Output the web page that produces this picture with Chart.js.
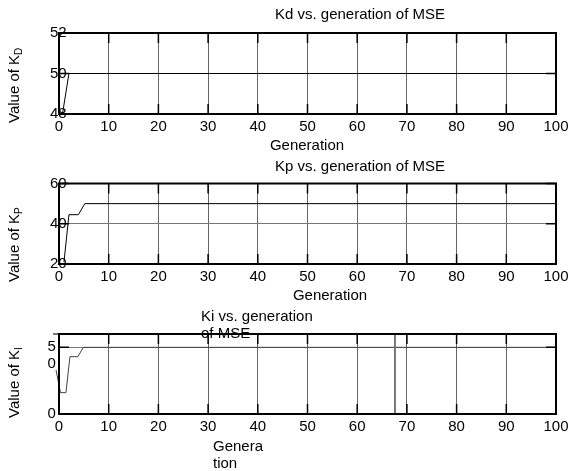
<!DOCTYPE html>
<html>
<head>
<meta charset="utf-8">
<script src="https://cdn.jsdelivr.net/npm/chart.js@4/dist/chart.umd.min.js"></script>
<style>
  body { margin: 0; background: #fff; }
  #wrap { position: relative; width: 579px; height: 471px; }
  canvas { position: absolute; left: 0; top: 0; }
</style>
</head>
<body>
<div id="wrap">
  <canvas id="kd" width="579" height="471"></canvas>
  <canvas id="kp" width="579" height="471"></canvas>
  <canvas id="ki" width="579" height="471"></canvas>
</div>
<script>
// data
const xTicks = [0, 10, 20, 30, 40, 50, 60, 70, 80, 90, 100]

const kdGen = [0.7, 2, 100]
const kdVal = [48, 50, 50]
const kdTicks = [48, 50, 52]

const kpGen = [1, 2, 3.9, 5.2, 100]
const kpVal = [21, 44.5, 44.5, 50, 50]
const kpTicks = [20, 40, 60]

const kiGen = [-0.6, 0.3, 1.4, 2.2, 3.8, 4.9, 100]
const kiVal = [3.3, 1.6, 1.6, 4.3, 4.3, 5, 5]
const kiTicks = [0, 3.75, 5]
const kiTickLabels = ['0', '0', '5']

// stray frame in the third plot
const kiBoxGen = [-1.2, -1.2, 67.6, 67.6]
const kiBoxVal = [0, 6, 6, 0]

const FONT = '"Liberation Sans", Arial, sans-serif'

function points(xs, ys) {
  return xs.map((x, i) => ({ x: x, y: ys[i] }))
}

function drawText(ctx, t) {
  ctx.save()
  ctx.fillStyle = '#000'
  ctx.font = '15px ' + FONT
  ctx.textAlign = t.align || 'center'
  ctx.textBaseline = 'middle'
  ctx.fillText(t.text, t.x, t.y)
  ctx.restore()
}

function drawYTitle(ctx, t) {
  ctx.save()
  ctx.translate(t.x, t.y)
  ctx.rotate(-Math.PI / 2)
  ctx.fillStyle = '#000'
  ctx.textAlign = 'left'
  ctx.textBaseline = 'middle'
  ctx.font = '15px ' + FONT
  ctx.fillText(t.text, 0, 0)
  const w = ctx.measureText(t.text).width
  ctx.font = '10px ' + FONT
  ctx.fillText(t.sub, w, 4)
  ctx.restore()
}

const panelPlugin = {
  id: 'panel',
  afterDraw(chart, args, opts) {
    const ctx = chart.ctx
    const { left, right, top, bottom } = chart.chartArea
    const x = chart.scales.x
    const y = chart.scales.y
    ctx.save()
    ctx.strokeStyle = '#000'
    ctx.lineWidth = 1.5
    // tick marks inside the box
    x.ticks.forEach(t => {
      const px = x.getPixelForValue(t.value)
      ctx.beginPath()
      ctx.moveTo(px, bottom)
      ctx.lineTo(px, bottom - 10)
      ctx.moveTo(px, top)
      ctx.lineTo(px, top + 10)
      ctx.stroke()
    })
    y.ticks.forEach(t => {
      if (opts.skipY.includes(t.value)) return
      const py = y.getPixelForValue(t.value)
      ctx.beginPath()
      ctx.moveTo(left, py)
      ctx.lineTo(left + 10, py)
      ctx.moveTo(right, py)
      ctx.lineTo(right - 10, py)
      ctx.stroke()
    })
    ctx.lineWidth = 2
    ctx.strokeRect(left, top, right - left, bottom - top)
    ctx.restore()
    opts.texts.forEach(t => drawText(ctx, t))
    drawYTitle(ctx, opts.yTitle)
  }
}

function makeChart(id, p) {
  return new Chart(document.getElementById(id), {
    type: 'line',
    data: { datasets: p.datasets },
    options: {
      responsive: false,
      animation: false,
      events: [],
      layout: { padding: { top: p.top, bottom: 471 - p.bottom - 30, left: 0, right: 23 } },
      plugins: {
        legend: { display: false },
        tooltip: { enabled: false },
        panel: p.panel
      },
      scales: {
        x: {
          type: 'linear',
          min: 0,
          max: 100,
          afterBuildTicks: s => { s.ticks = xTicks.map(v => ({ value: v })) },
          afterFit: s => { s.height = 30 },
          grid: { color: '#666', lineWidth: 1, drawTicks: false },
          border: { display: false },
          ticks: { padding: 4, color: '#000', autoSkip: false, maxRotation: 0, font: { size: 15, family: FONT } }
        },
        y: {
          type: 'linear',
          min: p.yMin,
          max: p.yMax,
          afterBuildTicks: s => { s.ticks = p.yTicks.map(v => ({ value: v })) },
          afterFit: s => { s.width = 59 },
          grid: {
            color: c => (p.panel.skipY.includes(c.tick.value) ? 'rgba(0,0,0,0)' : '#777'),
            lineWidth: 1,
            drawTicks: false
          },
          border: { display: false },
          ticks: {
            mirror: true,
            padding: p.yPad,
            color: '#000',
            autoSkip: false,
            font: { size: 15, family: FONT },
            callback: (v, i) => (p.yLabels ? p.yLabels[i] : String(v))
          }
        }
      }
    },
    plugins: [panelPlugin]
  })
}

makeChart('kd', {
  top: 33,
  bottom: 114,
  yMin: 48,
  yMax: 52,
  yTicks: kdTicks,
  yPad: -9,
  datasets: [
    { data: points(kdGen, kdVal), borderColor: '#000', borderWidth: 1, pointRadius: 0 }
  ],
  panel: {
    skipY: [],
    texts: [
      { text: 'Kd vs. generation of MSE', x: 360, y: 15 },
      { text: 'Generation', x: 307, y: 146 }
    ],
    yTitle: { text: 'Value of K', sub: 'D', x: 15, y: 123 }
  }
})

makeChart('kp', {
  top: 183.5,
  bottom: 264,
  yMin: 20,
  yMax: 60,
  yTicks: kpTicks,
  yPad: -9,
  datasets: [
    { data: points(kpGen, kpVal), borderColor: '#000', borderWidth: 1, pointRadius: 0 }
  ],
  panel: {
    skipY: [],
    texts: [
      { text: 'Kp vs. generation of MSE', x: 360, y: 167 },
      { text: 'Generation', x: 330, y: 296 }
    ],
    yTitle: { text: 'Value of K', sub: 'P', x: 15, y: 282 }
  }
})

makeChart('ki', {
  top: 334,
  bottom: 414,
  yMin: 0,
  yMax: 6,
  yTicks: kiTicks,
  yLabels: kiTickLabels,
  yPad: -11.5,
  datasets: [
    { data: points(kiBoxGen, kiBoxVal), borderColor: '#777', borderWidth: 2, pointRadius: 0, clip: false },
    { data: points(kiGen, kiVal), borderColor: '#444', borderWidth: 1, pointRadius: 0, clip: false }
  ],
  panel: {
    skipY: [3.75],
    texts: [
      { text: 'Ki vs. generation', x: 201, y: 317, align: 'left' },
      { text: 'of MSE', x: 201, y: 334, align: 'left' },
      { text: 'Genera', x: 213, y: 447, align: 'left' },
      { text: 'tion', x: 213, y: 464, align: 'left' }
    ],
    yTitle: { text: 'Value of K', sub: 'I', x: 15, y: 418 }
  }
})
</script>
</body>
</html>
